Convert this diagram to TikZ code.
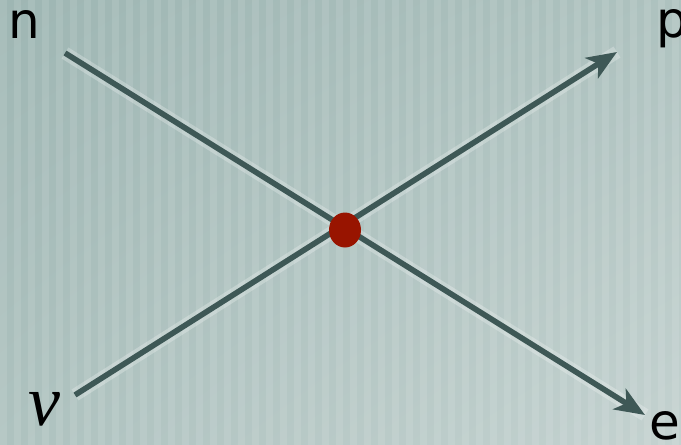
\documentclass[tikz,border=0pt]{standalone}
\usepackage{fontspec}
\setmainfont{DejaVu Sans}
\newfontfamily\nufont{Liberation Serif}
\usetikzlibrary{arrows.meta,shadings,shapes.geometric}
\definecolor{bgdark}{RGB}{158,182,179}
\definecolor{bglight}{RGB}{196,210,208}
\definecolor{bgmid}{RGB}{174,194,191}
\definecolor{wire}{RGB}{62,88,86}
\definecolor{dotred}{RGB}{152,20,0}

\begin{document}
\begin{tikzpicture}[
			x=0.5pt,y=-0.5pt,
			lbl/.style={inner sep=0pt,font=\fontsize{25}{30}\selectfont},
			wireline/.style={line width=2.8pt,draw=wire},
			glow/.style={line width=6.5pt,draw=white,opacity=0.25},
			arrow/.style={-{Stealth[length=15pt,width=12pt,inset=4pt]}}
			]
			
			% background
			\shade[upper left=bgdark,upper right=bgmid,lower left=bgmid,lower right=bglight]
				(0,0) rectangle (681,445);
			\foreach \sx in {0,14,...,680}
				\fill[white,opacity=0.1] (\sx,0) rectangle ++(7,445);
			\useasboundingbox (0,0) rectangle (681,445);
			
			\node[lbl] (n) at (24,24) {n};
			\node[lbl] (p) at (672,29) {p};
			\node[lbl] (e) at (665,426) {e};
			\node[lbl,font=\nufont\itshape\fontsize{36}{42}\selectfont] (nu) at (44,409) {ν};
			
			\coordinate (nin) at (65,53);
			\coordinate (nuin) at (75,395);
			\coordinate (pout) at (617,52);
			\coordinate (eout) at (645,415);
			
			\draw[glow] (nin) -- (eout);
			\draw[glow] (nuin) -- (pout);
			\draw[wireline,arrow] (nin) -- (eout);
			\draw[wireline,arrow] (nuin) -- (pout);
			
			\node[ellipse,fill=dotred,minimum width=16pt,minimum height=17.5pt,inner sep=0pt] (vtx) at (345,230) {};
			
		\end{tikzpicture}
\end{document}
